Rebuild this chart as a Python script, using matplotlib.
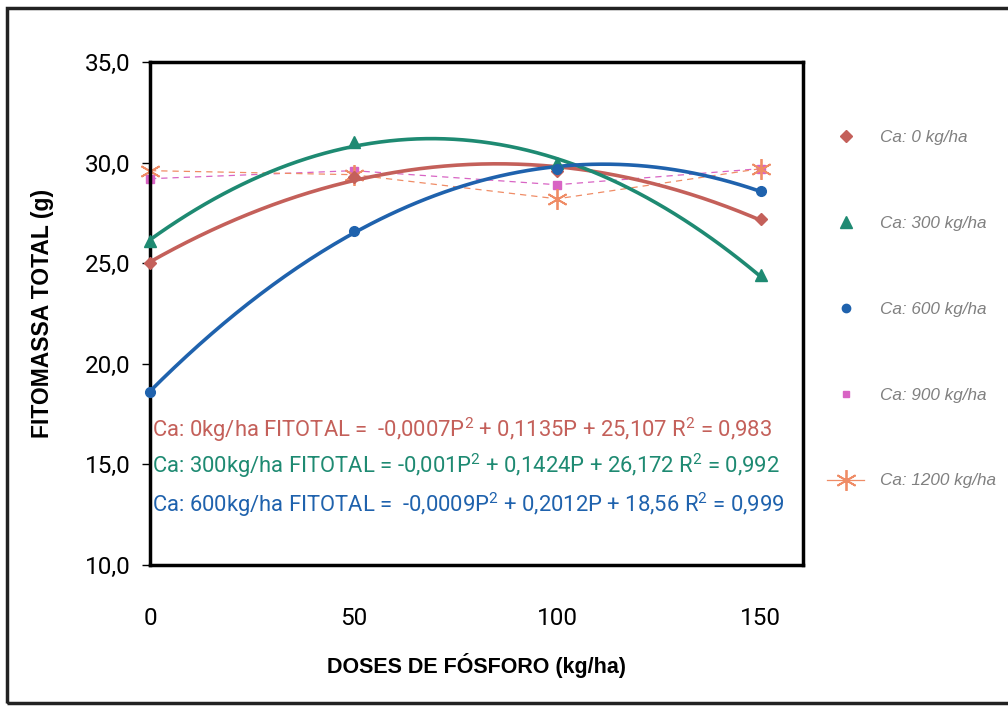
import matplotlib
matplotlib.use("Agg")
import matplotlib.pyplot as plt
import numpy as np
from matplotlib.lines import Line2D
from matplotlib.patches import Rectangle

plt.rcParams['font.family'] = ['Roboto', 'Liberation Sans', 'DejaVu Sans']
plt.rcParams['mathtext.fontset'] = 'custom'
plt.rcParams['mathtext.rm'] = 'Roboto'

doses = [0, 50, 100, 150]
ca0 = [25.0, 29.3, 29.6, 27.2]
ca300 = [26.1, 31.0, 30.0, 24.4]
ca600 = [18.6, 26.6, 29.7, 28.6]
ca900 = [29.2, 29.6, 28.9, 29.7]
ca1200 = [29.6, 29.4, 28.2, 29.7]
labels = ['Ca: 0 kg/ha', 'Ca: 300 kg/ha', 'Ca: 600 kg/ha', 'Ca: 900 kg/ha', 'Ca: 1200 kg/ha']
equations = [
    'Ca: 0kg/ha FITOTAL =  -0,0007P$^{2}$ + 0,1135P + 25,107 R$^{2}$ = 0,983',
    'Ca: 300kg/ha FITOTAL = -0,001P$^{2}$ + 0,1424P + 26,172 R$^{2}$ = 0,992',
    'Ca: 600kg/ha FITOTAL =  -0,0009P$^{2}$ + 0,2012P + 18,56 R$^{2}$ = 0,999',
]
yticks = [10, 15, 20, 25, 30, 35]
ytick_labels = ['10,0', '15,0', '20,0', '25,0', '30,0', '35,0']

c0 = '#c4605a'
c300 = '#1e8a72'
c600 = '#1f62ad'
c900 = '#d864c4'
c1200 = '#ef8c66'

fig = plt.figure(figsize=(10.08, 7.07), dpi=100)
ax = fig.add_axes([0.1488, 0.2008, 0.6478, 0.7115])

xs = np.linspace(0, 150, 200)
for data, col, mk, ms in [(ca0, c0, 'D', 6), (ca300, c300, '^', 8), (ca600, c600, 'o', 7)]:
    coef = np.polyfit(doses, data, 2)
    ax.plot(xs, np.polyval(coef, xs), color=col, lw=2.6, zorder=3)
    ax.plot(doses, data, ls='none', marker=mk, ms=ms, color=col, zorder=4, clip_on=False)

ax.plot(doses, ca900, ls=(0, (5, 4)), lw=0.9, color=c900, marker='s', ms=6, zorder=2, clip_on=False)
ax.plot(doses, ca1200, ls=(0, (5, 4)), lw=0.9, color=c1200, marker=(6, 2, 0), ms=15, mew=1.3, zorder=2, clip_on=False)

ax.set_xlim(0, 160.4)
ax.set_ylim(10, 35)
ax.set_xticks(doses)
ax.set_xticklabels([str(d) for d in doses], fontsize=17.5)
ax.set_yticks(yticks)
ax.set_yticklabels(ytick_labels, fontsize=17.5)
ax.tick_params(axis='x', length=0, pad=30)
ax.tick_params(axis='y', length=6, pad=8, width=1)
for s in ax.spines.values():
    s.set_linewidth(2.5)

ax.set_xlabel('DOSES DE FÓSFORO (kg/ha)', fontsize=15.5, fontweight='bold',
              family=['Liberation Sans', 'DejaVu Sans'], labelpad=17)
ax.set_ylabel('FITOMASSA TOTAL (g)', fontsize=16.5, fontweight='bold',
              family=['Liberation Sans', 'DejaVu Sans'], labelpad=22)

for txt, col, yv in zip(equations, [c0, c300, c600], [16.75, 14.95, 13.0]):
    ax.text(0.5, yv, txt, color=col, fontsize=15.8, va='center', ha='left')

handles = [
    Line2D([], [], ls='none', marker='D', ms=6, color=c0),
    Line2D([], [], ls='none', marker='^', ms=8, color=c300),
    Line2D([], [], ls='none', marker='o', ms=6, color=c600),
    Line2D([], [], ls='none', marker='s', ms=5, color=c900),
    Line2D([], [], ls='-', lw=0.9, marker=(6, 2, 0), ms=15, mew=1.3, color=c1200),
]
leg = fig.legend(handles, labels, loc='upper left', bbox_to_anchor=(0.805, 0.838),
                 frameon=False, labelspacing=4.15, handlelength=2.2, handletextpad=0.9,
                 prop={'family': ['Liberation Sans', 'DejaVu Sans'], 'style': 'italic', 'size': 12.3})
for t in leg.get_texts():
    t.set_color('#808080')

fig.patches.append(Rectangle((0.007, 0.005), 1.2, 0.983, transform=fig.transFigure,
                             fill=False, lw=2.5, edgecolor='#222222'))

fig.savefig('out.png', dpi=100)
